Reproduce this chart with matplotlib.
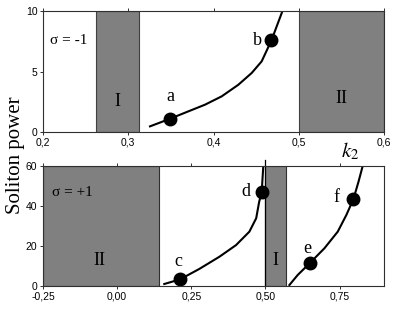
import matplotlib
matplotlib.use('Agg')
import matplotlib.pyplot as plt
import numpy as np

# top panel (sigma = -1)
k_top = [0.3255, 0.349, 0.3705, 0.390, 0.4096, 0.429, 0.4448, 0.4565, 0.468, 0.480, 0.482]
p_top = [0.47, 1.1, 1.71, 2.26, 2.95, 3.9, 4.88, 5.84, 7.58, 9.83, 10.3]
pts_top_k = [0.349, 0.468]
pts_top_p = [1.1, 7.58]
bands_top = [0.262, 0.313, 0.5, 0.6]

# bottom panel (sigma = +1)
k_cd = [0.159, 0.212, 0.277, 0.345, 0.401, 0.446, 0.469, 0.479, 0.4875, 0.493, 0.494]
p_cd = [1.0, 3.3, 8.5, 14.6, 20.4, 27.1, 33.8, 42.0, 46.7, 60.0, 62.0]
k_ef = [0.581, 0.609, 0.649, 0.699, 0.744, 0.773, 0.797, 0.814, 0.829, 0.831]
p_ef = [0.5, 5.5, 11.3, 18.8, 27.1, 35.4, 43.4, 52.0, 60.3, 62.0]
pts_bot_k = [0.212, 0.4875, 0.649, 0.797]
pts_bot_p = [3.3, 46.7, 11.3, 43.4]
bands_bot = [-0.25, 0.14, 0.5, 0.57]

top_ticks = [0.2, 0.3, 0.4, 0.5, 0.6]
bot_ticks = [-0.25, 0.0, 0.25, 0.5, 0.75]

serif = 'Liberation Serif'
sans = 'Liberation Sans'
gray = '#808080'
plt.rcParams['mathtext.fontset'] = 'stix'


def comma(v, nd):
    return f'{v:.{nd}f}'.replace('.', ',')


def style(ax):
    for s in ax.spines.values():
        s.set_color('#303030')
        s.set_linewidth(0.8)
    ax.tick_params(direction='out', length=2.5, width=0.7, top=True, labeltop=False,
                   labelsize=7.5, pad=1.5, colors='#303030', labelcolor='black')
    for lab in ax.get_xticklabels() + ax.get_yticklabels():
        lab.set_fontfamily(sans)


def label(ax, x, y, s, size=13):
    ax.text(x, y, s, family=serif, fontsize=size, ha='center', va='center')


fig = plt.figure(figsize=(4, 3.1), dpi=100)
ax1 = fig.add_axes([0.1075, 0.574, 0.8525, 0.3905])
ax2 = fig.add_axes([0.1075, 0.0774, 0.8525, 0.3881])

# top
ax1.axvspan(bands_top[0], bands_top[1], facecolor=gray, edgecolor='#404040', linewidth=0.8)
ax1.axvspan(bands_top[2], bands_top[3], facecolor=gray, edgecolor='#404040', linewidth=0.8)
ax1.plot(k_top, p_top, color='black', lw=1.5)
ax1.plot(pts_top_k, pts_top_p, 'o', color='black', ms=9)
ax1.set_xlim(0.2, 0.6)
ax1.set_ylim(0, 10)
ax1.set_xticks(top_ticks)
ax1.set_xticklabels([comma(v, 1) for v in top_ticks])
ax1.set_yticks([0, 5, 10])
style(ax1)
ax1.text(0.208, 7.6, 'σ = -1', family=serif, fontsize=11, va='center')
label(ax1, 0.2875, 2.5, 'I')
label(ax1, 0.55, 2.8, 'II')
label(ax1, 0.350, 2.9, 'a')
label(ax1, 0.452, 7.6, 'b')
ax1.text(0.56, -1.6, '$k_2$', fontsize=15, ha='center', va='center')

# bottom
ax2.axvspan(bands_bot[0], bands_bot[1], facecolor=gray, edgecolor='#303030', linewidth=0.8)
ax2.axvspan(bands_bot[2], bands_bot[3], facecolor=gray, edgecolor='#303030', linewidth=0.8)
ax2.plot([0.5, 0.5], [0, 63], color='black', lw=0.9, clip_on=False)
ax2.plot(k_cd, p_cd, color='black', lw=1.5)
ax2.plot(k_ef, p_ef, color='black', lw=1.5)
ax2.plot(pts_bot_k, pts_bot_p, 'o', color='black', ms=9)
ax2.set_xlim(-0.25, 0.9)
ax2.set_ylim(0, 60)
ax2.set_xticks(bot_ticks)
ax2.set_xticklabels([comma(v, 2) for v in bot_ticks])
ax2.set_yticks([0, 20, 40, 60])
style(ax2)
ax2.text(-0.218, 46.5, 'σ = +1', family=serif, fontsize=11, va='center')
label(ax2, -0.06, 12.5, 'II')
label(ax2, 0.535, 12.5, 'I')
label(ax2, 0.205, 12, 'c')
label(ax2, 0.435, 47, 'd')
label(ax2, 0.64, 18.5, 'e')
label(ax2, 0.74, 44, 'f')

fig.text(0.038, 0.50, 'Soliton power', family=serif, fontsize=15,
         rotation=90, ha='center', va='center')

fig.savefig('out.png', dpi=100)
